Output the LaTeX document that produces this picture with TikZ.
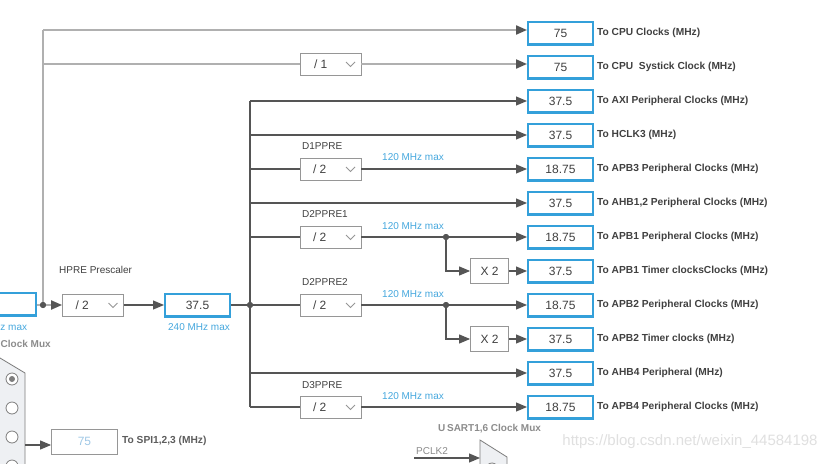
\documentclass[tikz,border=0pt]{standalone}
\usepackage{fontspec}
\setmainfont{Liberation Sans}
\usetikzlibrary{arrows.meta}
\definecolor{boxblue}{RGB}{52,160,218}
\definecolor{maxblue}{RGB}{70,168,222}
\definecolor{linegray}{RGB}{85,85,85}
\definecolor{lightline}{RGB}{176,176,176}
\definecolor{labgray}{RGB}{64,64,64}
\definecolor{ddgray}{RGB}{150,150,150}
\definecolor{muxfill}{RGB}{238,240,243}
\definecolor{muxgray}{RGB}{125,125,125}
\definecolor{captgray}{RGB}{140,140,140}
\definecolor{wmgray}{RGB}{224,224,224}
\definecolor{spiblue}{RGB}{160,200,230}
\begin{document}
\begin{tikzpicture}[x=1pt,y=-1pt,
  outbox/.style={draw=boxblue, line width=2.2pt, minimum width=64.8pt, minimum height=22.8pt, inner sep=0pt, font=\fontsize{12}{14}\selectfont, text=labgray},
  outlab/.style={anchor=west, inner sep=0pt, font=\fontsize{10.2}{11}\selectfont\bfseries, text=labgray},
  smalltxt/.style={anchor=west, inner sep=0pt, font=\fontsize{10}{12}\selectfont, text=labgray},
  maxtxt/.style={inner sep=0pt, font=\fontsize{10}{12}\selectfont, text=maxblue},
  ddbox/.style={draw=ddgray, line width=0.8pt, minimum width=61pt, minimum height=22pt, inner sep=0pt, font=\fontsize{12}{14}\selectfont, text=labgray,
    path picture={\draw[ddgray, line width=0.8pt] ([xshift=-15pt,yshift=2pt]path picture bounding box.east) -- ++(4.5,4.5) -- ++(4.5,-4.5);}},
  xbox/.style={draw=ddgray, line width=0.8pt, minimum width=38pt, minimum height=25pt, inner sep=0pt, font=\fontsize{12}{14}\selectfont, text=labgray},
  wire/.style={draw=linegray, line width=1.1pt},
  lwire/.style={draw=lightline, line width=2pt},
  arr/.style={-{Triangle[length=11pt,width=9pt,color=linegray]}},
  jdot/.style={circle, fill=linegray, inner sep=0pt, minimum size=6pt},
  radio/.style={circle, draw=muxgray, fill=white, line width=0.8pt, minimum size=12pt, inner sep=0pt},
  radiosel/.style={radio, path picture={\fill[muxgray] (path picture bounding box.center) circle (3pt);}},
  capt/.style={inner sep=0pt, font=\fontsize{10}{12}\selectfont\bfseries, text=captgray}
]
\useasboundingbox (0,0) rectangle (826,463);
\fill[white] (0,0) rectangle (826,463);
\clip (0,0) rectangle (826,463);

% watermark
\node[inner sep=0pt, font=\fontsize{15}{17}\selectfont, text=wmgray] (wm) at (690,442) {https://blog.csdn.net/weixin\_44584198};

% output boxes
\node[outbox] (cpu)     at (560.5,33)  {75};
\node[outbox] (systick) at (560.5,67)  {75};
\node[outbox] (axi)     at (560.5,101) {37.5};
\node[outbox] (hclk3)   at (560.5,135) {37.5};
\node[outbox] (apb3)    at (560.5,169) {18.75};
\node[outbox] (ahb12)   at (560.5,203) {37.5};
\node[outbox] (apb1)    at (560.5,237) {18.75};
\node[outbox] (apb1t)   at (560.5,271) {37.5};
\node[outbox] (apb2)    at (560.5,305) {18.75};
\node[outbox] (apb2t)   at (560.5,339) {37.5};
\node[outbox] (ahb4)    at (560.5,373) {37.5};
\node[outbox] (apb4)    at (560.5,407) {18.75};

\node[outlab] (lcpu)     at (597,33)  {To CPU Clocks (MHz)};
\node[outlab] (lsystick) at (597,67)  {To CPU\ \ Systick Clock (MHz)};
\node[outlab] (laxi)     at (597,101) {To AXI Peripheral Clocks (MHz)};
\node[outlab] (lhclk3)   at (597,135) {To HCLK3 (MHz)};
\node[outlab] (lapb3)    at (597,169) {To APB3 Peripheral Clocks (MHz)};
\node[outlab] (lahb12)   at (597,203) {To AHB1,2 Peripheral Clocks (MHz)};
\node[outlab] (lapb1)    at (597,237) {To APB1 Peripheral Clocks (MHz)};
\node[outlab] (lapb1t)   at (597,271) {To APB1 Timer clocksClocks (MHz)};
\node[outlab] (lapb2)    at (597,305) {To APB2 Peripheral Clocks (MHz)};
\node[outlab] (lapb2t)   at (597,339) {To APB2 Timer clocks (MHz)};
\node[outlab] (lahb4)    at (597,373) {To AHB4 Peripheral (MHz)};
\node[outlab] (lapb4)    at (597,407) {To APB4 Peripheral Clocks (MHz)};

% dropdowns
\node[ddbox] (div1) at (330.5,64)  {\hbox to 61pt{\hspace{14pt}/ 1\hfill}};
\node[ddbox] (d1)   at (330.5,169) {\hbox to 61pt{\hspace{13pt}/ 2\hfill}};
\node[ddbox] (d2a)  at (330.5,237) {\hbox to 61pt{\hspace{13pt}/ 2\hfill}};
\node[ddbox] (d2b)  at (330.5,305) {\hbox to 61pt{\hspace{13pt}/ 2\hfill}};
\node[ddbox] (d3)   at (330.5,407) {\hbox to 61pt{\hspace{13pt}/ 2\hfill}};
\node[ddbox] (hpre) at (93,305)  {\hbox to 61pt{\hspace{13pt}/ 2\hfill}};

\node[smalltxt] (t1) at (302,146) {D1PPRE};
\node[smalltxt] (t2) at (302,214) {D2PPRE1};
\node[smalltxt] (t3) at (302,282) {D2PPRE2};
\node[smalltxt] (t4) at (302,385) {D3PPRE};
\node[smalltxt] (thpre) at (59,270) {HPRE Prescaler};

\node[maxtxt, anchor=west] (m1) at (382,157) {120 MHz max};
\node[maxtxt, anchor=west] (m2) at (382,226) {120 MHz max};
\node[maxtxt, anchor=west] (m3) at (382,294) {120 MHz max};
\node[maxtxt, anchor=west] (m4) at (382,396) {120 MHz max};
\node[maxtxt] (m5) at (199,327.5) {240 MHz max};
\node[maxtxt, anchor=east] (m6) at (27.3,327.5) {z max};

% x2 boxes
\node[xbox] (x2a) at (489.5,271) {X 2};
\node[xbox] (x2b) at (489.5,339) {X 2};

% sys and input boxes
\node[outbox] (sys) at (197.5,305) {37.5};
\node[outbox] (inbox) at (3.5,304) {};

% junctions / coordinates
\coordinate (c0) at (43,30);
\coordinate (c1) at (43,64);
\node[jdot] (j0) at (43,305) {};
\node[jdot] (j1) at (250,305) {};
\node[jdot] (j2) at (446,237) {};
\node[jdot] (j3) at (446,305) {};
\coordinate (v1) at (250,101);
\coordinate (v2) at (250,135);
\coordinate (v3) at (250,169);
\coordinate (v4) at (250,203);
\coordinate (v5) at (250,237);
\coordinate (v6) at (250,373);
\coordinate (v7) at (250,407);

% light wires
\draw[lwire] (inbox.east |- j0) -- (j0);
\draw[lwire] (c0) -- (j0);
\draw[lwire, arr] (c0) -- ([yshift=3pt]cpu.west);
\draw[lwire] (c1) -- (div1.west);
\draw[lwire, arr] (div1.east) -- ([yshift=3pt]systick.west);
\draw[lwire, arr] (j0) -- (hpre.west);

% dark wires
\draw[wire, arr] (hpre.east) -- (sys.west);
\draw[wire] (sys.east) -- (j1) -- (d2b.west);
\draw[wire] (v1) -- (v7);
\draw[wire, arr] (v1) -- (axi.west);
\draw[wire, arr] (v2) -- (hclk3.west);
\draw[wire] (v3) -- (d1.west);
\draw[wire, arr] (d1.east) -- (apb3.west);
\draw[wire, arr] (v4) -- (ahb12.west);
\draw[wire] (v5) -- (d2a.west);
\draw[wire, arr] (d2a.east) -- (apb1.west);
\draw[wire, arr] (j2) |- (x2a.west);
\draw[wire, arr] (x2a.east) -- (apb1t.west);
\draw[wire, arr] (d2b.east) -- (apb2.west);
\draw[wire, arr] (j3) |- (x2b.west);
\draw[wire, arr] (x2b.east) -- (apb2t.west);
\draw[wire, arr] (v6) -- (ahb4.west);
\draw[wire] (v7) -- (d3.west);
\draw[wire, arr] (d3.east) -- (apb4.west);
\node[jdot] at (j0) {};
\node[jdot] at (j1) {};
\node[jdot] at (j2) {};
\node[jdot] at (j3) {};

% bottom-left clock mux
\node[capt, anchor=west] (cm) at (0.5,344) {Clock Mux};
\fill[muxfill] (-20,346) -- (25,373) -- (25,480) -- (-20,480) -- cycle;
\draw[muxgray, line width=0.8pt] (-20,346) -- (25,373) -- (25,480);
\node[radiosel] (r1) at (12,379) {};
\node[radio] (r2) at (12,408) {};
\node[radio] (r3) at (12,437) {};
\node[radio] (r4) at (12,466) {};
\node[draw=ddgray, line width=0.8pt, minimum width=66pt, minimum height=25pt, inner sep=0pt, font=\fontsize{12}{14}\selectfont, text=spiblue] (spi) at (84.5,441.5) {75};
\coordinate (muxout) at (25,445);
\draw[wire, arr] (muxout) -- (muxout -| spi.west);
\node[outlab, text=labgray!85] (lspi) at (122,441) {To SPI1,2,3 (MHz)};

% USART mux
\node[capt, anchor=west] (um) at (438,429) {U\,SART1,6 Clock Mux};
\fill[muxfill] (480,440) -- (507,457) -- (507,480) -- (480,480) -- cycle;
\draw[muxgray, line width=0.8pt] (480,480) -- (480,440) -- (507,457) -- (507,480);
\node[radiosel] (r5) at (492,469) {};
\coordinate (pclk) at (414,458);
\coordinate (usin) at (480,458);
\draw[wire, arr] (pclk) -- (usin);
\node[smalltxt, text=captgray] (tp) at (416,451.5) {PCLK2};
\end{tikzpicture}
\end{document}
